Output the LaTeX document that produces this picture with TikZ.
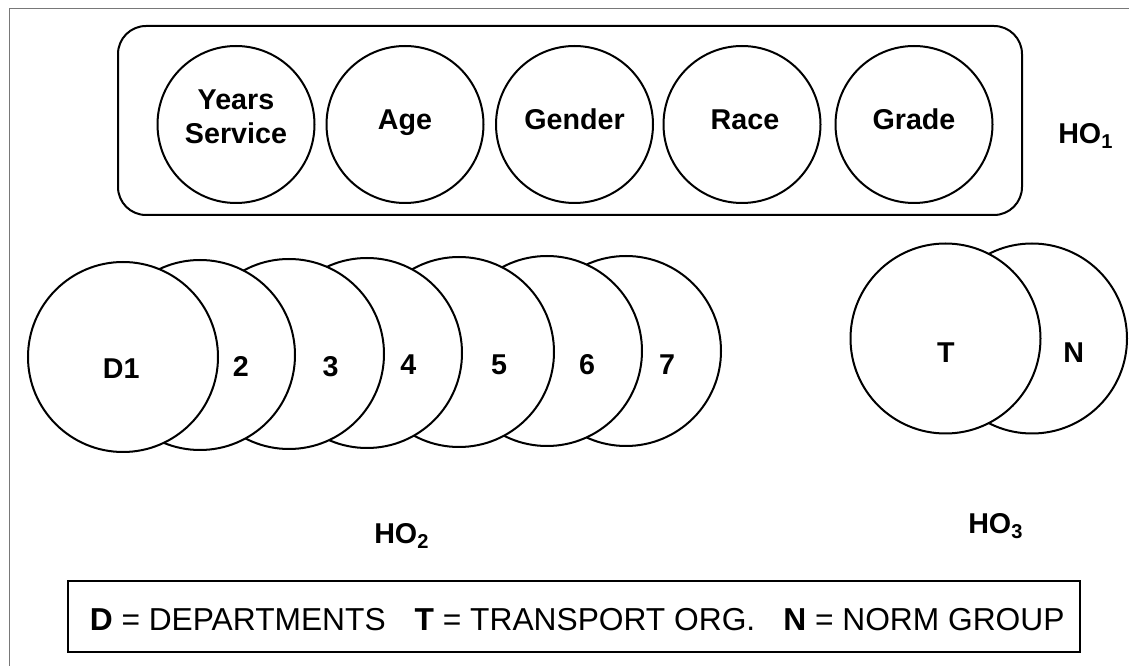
\documentclass[tikz,border=0pt]{standalone}
\usepackage{fontspec}
\setmainfont{Liberation Sans}
\begin{document}
\begin{tikzpicture}[x=0.75pt,y=-0.75pt,
  ring/.style={circle,draw=black,line width=1.5pt,fill=white,inner sep=0pt,minimum size=117.75pt},
  dept/.style={circle,draw=black,line width=1.5pt,fill=white,inner sep=0pt,minimum size=142.5pt},
  lbl/.style={anchor=base,inner sep=0pt,font=\fontsize{21.5}{25}\selectfont\bfseries},
  ho/.style={anchor=base west,inner sep=0pt,font=\fontsize{21.5}{25}\selectfont\bfseries}]
\useasboundingbox (0,0) rectangle (1129,666);
% page frame
\draw[color={rgb,255:red,120;green,120;blue,120},line width=1pt] (9.3,666) -- (9.3,8.5) -- (1129,8.5);

% first hypothesis: demographic variables
\node[draw=black,line width=1.5pt,rounded corners=21pt,minimum width=678pt,minimum height=141.75pt,inner sep=0pt] (grp) at (570,120.5) {};
\node[ring] (yrs) at (236,124.5) {};
\node[ring] (age) at (405,124.5) {};
\node[ring] (gen) at (574.5,124.5) {};
\node[ring] (race) at (742,124.5) {};
\node[ring] (grade) at (914,124.5) {};
\node[lbl] (tyrs1) at (236,110) {Years};
\node[lbl] (tyrs2) at (236,144) {Service};
\node[lbl] (tage) at (405,130) {Age};
\node[lbl] (tgen) at (574.5,130) {Gender};
\node[lbl] (trace) at (745,130) {Race};
\node[lbl] (tgrade) at (914,130) {Grade};
\node[ho] (ho1) at (1058,144) {HO\textsubscript{1}};

% second hypothesis: departments, back to front
\node[dept] (d7) at (626,351) {};
\node[dept] (d6) at (547,351) {};
\node[dept] (d5) at (459,352) {};
\node[dept] (d4) at (367,353) {};
\node[dept] (d3) at (289,354) {};
\node[dept] (d2) at (200,355) {};
\node[dept] (d1) at (123,357) {};
\node[lbl] (td1) at (121.3,379) {D1};
\node[lbl] (td2) at (240.8,377) {2};
\node[lbl] (td3) at (330.5,377) {3};
\node[lbl] (td4) at (408.3,375) {4};
\node[lbl] (td5) at (499,375) {5};
\node[lbl] (td6) at (587,375) {6};
\node[lbl] (td7) at (667,375) {7};
\node[ho] (ho2) at (374,544) {HO\textsubscript{2}};

% third hypothesis: transport organisation against norm group
\node[dept] (n) at (1032,338.5) {};
\node[dept] (t) at (945.5,338.5) {};
\node[lbl] (tt) at (945.8,362.7) {T};
\node[lbl] (tn) at (1073.7,362.7) {N};
\node[ho] (ho3) at (968,534) {HO\textsubscript{3}};

% legend
\node[draw=black,line width=1.5pt,minimum width=759pt,minimum height=53.5pt,inner sep=0pt] (key) at (574,616.3) {};
\node[anchor=base west,inner sep=0pt,font=\fontsize{23.8}{28}\selectfont] (keytext) at (89.5,630)
  {{\bfseries D} = DEPARTMENTS\hspace{21.75pt}{\bfseries T} = TRANSPORT ORG.\hspace{21pt}{\bfseries N} = NORM GROUP};
\end{tikzpicture}
\end{document}
